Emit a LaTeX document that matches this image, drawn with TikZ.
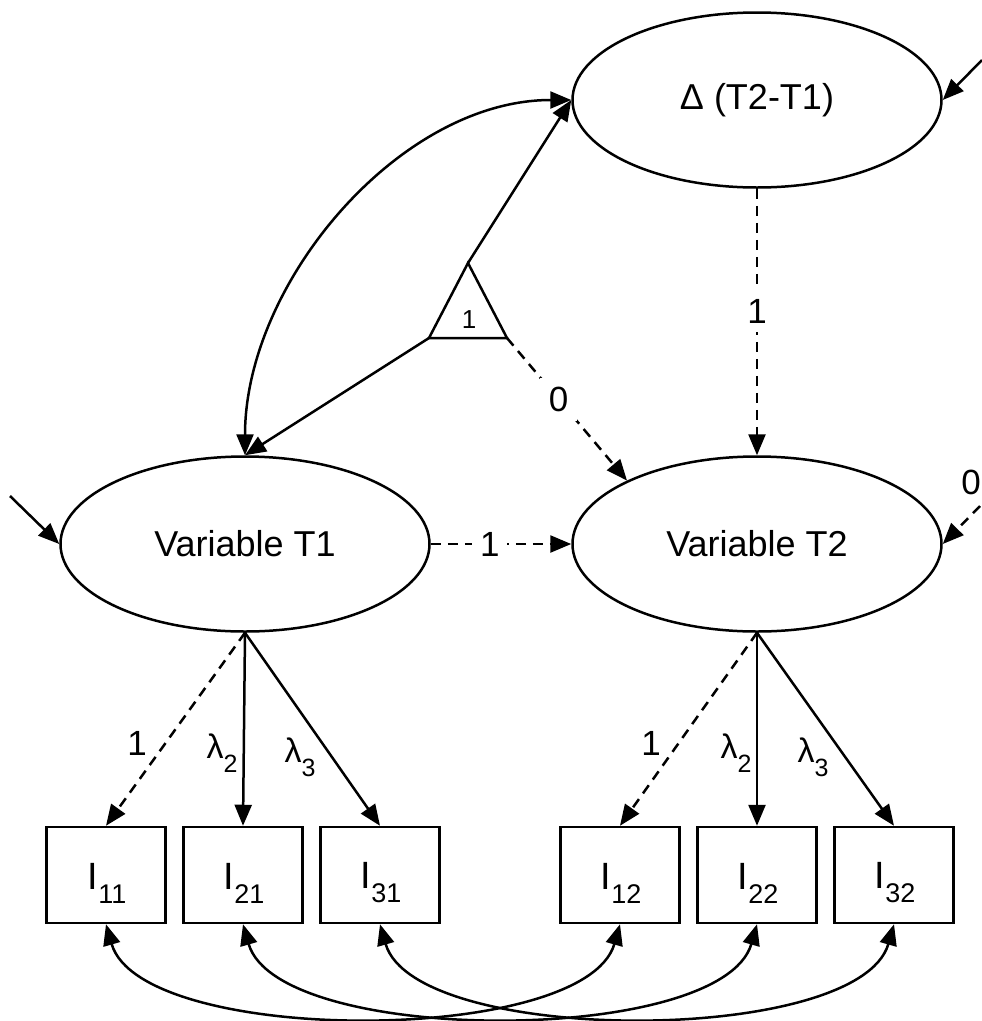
\documentclass[tikz,border=0pt]{standalone}
\usepackage{fontspec}
\setmainfont{Liberation Sans}
\usetikzlibrary{arrows.meta,shapes.geometric,calc}
\newcommand\IndLab[1]{{\fontsize{38}{38}\selectfont I}\raisebox{-14pt}{\fontsize{27}{27}\selectfont #1}}
\newcommand\LamSub[1]{{\fontsize{34}{34}\selectfont λ}\raisebox{-14pt}{\fontsize{25}{25}\selectfont #1}}
\begin{document}
\begin{tikzpicture}[x=1pt,y=-1pt,
  lw/.style={line width=2.5pt},
  arr/.style={lw,-{Triangle[length=21pt,width=17pt]}},
  darr/.style={arr,dash pattern=on 10pt off 7pt},
  biarr/.style={lw,{Triangle[length=21pt,width=17pt]}-{Triangle[length=21pt,width=17pt]}},
  latent/.style={ellipse,draw,lw,minimum width=369pt,minimum height=175pt,inner sep=0pt,font=\fontsize{36}{42}\selectfont},
  item/.style={rectangle,draw,lw,minimum width=119pt,minimum height=96pt,inner sep=0pt},
  lbl/.style={font=\fontsize{35}{40}\selectfont,inner sep=1pt},
  onlbl/.style={lbl,fill=white,inner sep=9pt},
]
\useasboundingbox (0,0) rectangle (982,1021);
% latent variables
\node[latent] (delta) at (757,100) {Δ (T2-T1)};
\node[latent] (t1) at (245,544) {Variable T1};
\node[latent] (t2) at (757,544) {Variable T2};
% indicators
\node[item] (b11) at (106,875) {};
\node[item] (b21) at (243,875) {};
\node[item] (b31) at (380,875) {};
\node[item] (b12) at (620,875) {};
\node[item] (b22) at (757,875) {};
\node[item] (b32) at (894,875) {};
\node (l11) at (107,883) {\IndLab{11}};
\node (l21) at (244,883) {\IndLab{21}};
\node (l31) at (381,883) {\IndLab{31}};
\node (l12) at (621,883) {\IndLab{12}};
\node (l22) at (758,883) {\IndLab{22}};
\node (l32) at (895,883) {\IndLab{32}};
% constant triangle
\coordinate (ta) at (468,263);
\coordinate (tl) at (429,338);
\coordinate (tr) at (507,338);
\draw[lw,line join=miter] (ta) -- (tl) -- (tr) -- cycle;
\node[font=\fontsize{26}{26}\selectfont,inner sep=0pt] (one) at (469,320) {1};
\draw[arr] (ta) -- (delta.west);
\draw[arr] (tl) -- (t1.north);
\draw[darr] (tr) -- node[onlbl,pos=0.43] (zl) {0} (t2.154);
% structural paths
\draw[biarr] (t1.north) .. controls +(0,-172) and +(-172,0) .. (delta.west);
\draw[darr] (delta.south) -- node[onlbl,pos=0.46] (dl) {1} (t2.north);
\draw[darr] (t1.east) -- node[onlbl,pos=0.42,inner sep=8pt] (hl) {1} (t2.west);
% residuals
\coordinate (e1) at (10,496);
\coordinate (ed) at (982,60);
\coordinate (e2) at (980,506);
\draw[arr] (e1) -- (t1.west);
\draw[arr] (ed) -- (delta.east);
\draw[darr] (e2) -- (t2.east);
\node[lbl] (z2) at (971,482) {0};
% loadings T1
\draw[darr] (t1.south) -- (b11.north);
\draw[arr] (t1.south) -- (b21.north);
\draw[arr] (t1.south) -- (b31.north);
\node[lbl] (k11) at (137,743) {1};
\node[lbl] (k21) at (222,753) {\LamSub{2}};
\node[lbl] (k31) at (300,757) {\LamSub{3}};
% loadings T2
\draw[darr] (t2.south) -- (b12.north);
\draw[arr] (t2.south) -- (b22.north);
\draw[arr] (t2.south) -- (b32.north);
\node[lbl] (k12) at (651,743) {1};
\node[lbl] (k22) at (736,753) {\LamSub{2}};
\node[lbl] (k32) at (813,757) {\LamSub{3}};
% residual covariances
\draw[biarr] (b11.south) .. controls +(35,122) and +(-35,122) .. (b12.south);
\draw[biarr] (b21.south) .. controls +(35,122) and +(-35,122) .. (b22.south);
\draw[biarr] (b31.south) .. controls +(35,122) and +(-35,122) .. (b32.south);
\end{tikzpicture}
\end{document}
